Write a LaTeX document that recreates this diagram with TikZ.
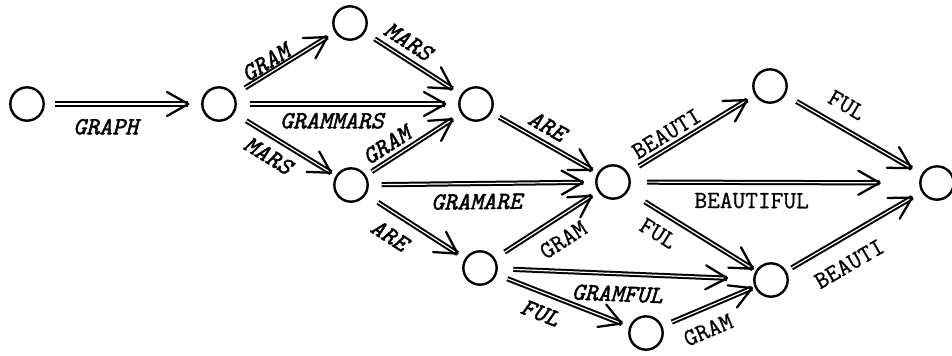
\documentclass[tikz,border=0pt]{standalone}
\usepackage{fontspec}
\usetikzlibrary{calc,decorations.markings}
\newfontfamily\labfont{Latin Modern Mono}[FakeBold=0.8]
\newfontfamily\ilabfont{Latin Modern Mono}[FakeBold=1.8]
\tikzset{
  state/.style={circle, draw, line width=1.8pt, minimum size=25pt, inner sep=0pt},
  trans/.style={
    postaction={draw, line width=1.5pt, double, double distance=0.9pt},
    postaction={decorate},
    decoration={markings, mark=at position 1 with {%
      \draw[line width=1.7pt, line join=round, line cap=round]
        (-16pt,9pt) -- (0pt,0pt) -- (-16pt,-9pt);}}},
  lab/.style={font=\labfont\fontsize{18.5}{18.5}\selectfont, inner sep=0pt, sloped},
  ilab/.style={font=\ilabfont\itshape\fontsize{18.5}{18.5}\selectfont, inner sep=0pt, sloped},
}
\begin{document}
\begin{tikzpicture}[x=0.75pt, y=-0.75pt]
\useasboundingbox (0,0) rectangle (952,355);
% states
\node[state] (A) at (27,104) {};
\node[state] (B) at (219,104) {};
\node[state] (C) at (350,23) {};
\node[state] (D) at (476,104) {};
\node[state] (E) at (351,185) {};
\node[state] (F) at (613,182) {};
\node[state] (G) at (480,268) {};
\node[state] (H) at (646,333) {};
\node[state] (I) at (770,86) {};
\node[state] (J) at (937,183) {};
\node[state] (K) at (771,280) {};
% transitions
\path[trans] ($(A)!21pt!(B)$) -- node[ilab, pos=.38, below=11pt] {GRAPH} ($(B)!23pt!(A)$);
\path[trans] ($(B)!23pt!(C)$) -- node[ilab, pos=.32, above=2pt] {GRAM} ($(C)!20pt!(B)$);
\path[trans] ($(B)!23pt!(D)$) -- node[ilab, pos=.42, below=6.5pt] {GRAMMARS} ($(D)!23pt!(B)$);
\path[trans] ($(B)!24pt!(E)$) -- node[ilab, pos=.37, below=7.5pt] {MARS} ($(E)!17.5pt!(B)$);
\path[trans] ($(C)!22pt!(D)$) -- node[ilab, pos=.32, above=6pt] {MARS} ($(D)!21pt!(C)$);
\path[trans] ($(E)!18.5pt!(D)$) -- node[ilab, pos=.28, above=4.5pt] {GRAM} ($(D)!21pt!(E)$);
\path[trans] ($(D)!20pt!(F)$) -- node[ilab, pos=.43, above=6pt] {ARE} ($(F)!18pt!(D)$);
\path[trans] ($(E)!23pt!(F)$) -- node[ilab, pos=.47, below=7.5pt] {GRAMARE} ($(F)!22.5pt!(E)$);
\path[trans] ($(E)!24pt!(G)$) -- node[ilab, pos=.29, below=10pt] {ARE} ($(G)!20pt!(E)$);
\path[trans] ($(G)!22pt!(F)$) -- node[lab, pos=.54, below=10pt] {GRAM} ($(F)!19pt!(G)$);
\path[trans] ($(G)!25pt!(K)$) -- node[ilab, pos=.49, below=9pt] {GRAMFUL} ($(K)!33pt!(G)$);
\path[trans] ($(G)!22pt!(H)$) -- node[ilab, pos=.35, below=9pt] {FUL} ($(H)!19.5pt!(G)$);
\path[trans] ($(H)!21pt!(K)$) -- node[lab, pos=.35, below=10pt] {GRAM} ($(K)!15.5pt!(H)$);
\path[trans] ($(F)!22.7pt!(I)$) -- node[lab, pos=.32, above=4pt] {BEAUTI} ($(I)!20pt!(F)$);
\path[trans] ($(F)!25.5pt!(J)$) -- node[lab, pos=.45, below=7.5pt] {BEAUTIFUL} ($(J)!43pt!(F)$);
\path[trans] ($(F)!28pt!(K)$) -- node[lab, pos=.22, below=9pt] {FUL} ($(K)!16pt!(F)$);
\path[trans] ($(I)!23pt!(J)$) -- node[lab, pos=.34, above=10.5pt] {FUL} ($(J)!22pt!(I)$);
\path[trans] ($(K)!18pt!(J)$) -- node[lab, pos=.37, below=13pt] {BEAUTI} ($(J)!21.5pt!(K)$);
\end{tikzpicture}
\end{document}
